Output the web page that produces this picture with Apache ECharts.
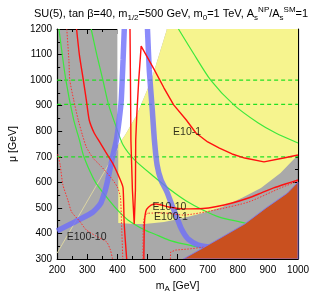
<!DOCTYPE html>
<html><head><meta charset="utf-8">
<script src="https://cdn.jsdelivr.net/npm/echarts@6/dist/echarts.min.js"></script>
<style>html,body{margin:0;padding:0;background:#fff}#c{width:314px;height:304px}</style>
</head><body><div id="c"></div>
<script>
// axis ticks
const xTicks = [200, 300, 400, 500, 600, 700, 800, 900, 1000];
const yTicks = [300, 400, 500, 600, 700, 800, 900, 1000, 1100, 1200];
// horizontal dashed green lines (mu values)
const dashedMu = [1000, 905, 700];
// region boundaries [mA, mu]
const whiteRegion = [[400,1200],[565,1200],[513,1000],[464.5,863],[426,785],[403,746],[400,746]];
const yellowRegion = [[565,1200],[1000,1200],[1000,707],[974,676],[942,637],[877,578],[813,539],[748,503],[684,480],[619,460],[555,445],[490,437],[458,437],[403,441],[403,746],[426,785],[464.5,863],[513,1000]];
const orangeRegion = [[619,300],[684,343],[748,386],[823,437],[894,500],[965,558],[1000,601],[1000,300]];
const paleLine = [[200,323],[403,735]];
// green solid contours
const green1 = [[206,1200],[229,1000],[255,844],[274,766],[287,707],[310,640],[329,597],[361,547],[400,492],[435,453],[490,414],[523,398],[571,374],[619,359],[668,347],[706,339]];
const green2 = [[313,1200],[332,1098],[352,1000],[371,903],[394,824],[419,746],[458,687],[523,621],[577,570],[629,527],[684,492],[739,464],[823,441],[877,421]];
const green3 = [[603,1200],[652,1106],[710,1000],[787,903],[868,832],[926,793],[1000,754]];
// blue bands
const blue1 = [[200,410],[265,449],[319,484],[345,519],[358,562],[368,609],[384,699],[397,766],[406,844],[413,922],[419,1079],[423,1200]];
const blue2 = [[500,1200],[506,1040],[516,883],[523,766],[532,668],[545,609],[565,562],[581,511],[597,464],[613,417],[635,378],[668,355],[703,347]];
// red contours
const redE10_1 = [[442,1200],[443.5,1000],[445,766],[450,570],[456,437],[460,570],[461,766],[464.5,863],[471,1000],[479,1133],[523,1040],[555,969],[587,903],[629,844],[661,793],[700,758],[739,734],[781,711],[823,695],[887,680],[952,695],[1000,707]];
const redLeft = [[264.5,1200],[274,1098],[287,1000],[297,922],[306.5,844],[323,793],[339,762],[361,719],[384,676],[410,609],[419,578],[422.6,441],[431,300]];
const redLeftDot = [[232,1200],[239,1079],[242,1000],[255,922],[270,844],[284,785],[297,738],[319,695],[345,664],[377,621],[400,582],[410,543],[413,472],[418,300]];
const redE10_10 = [[488,300],[490,441],[496,492],[512,511],[529,515],[571,503.5],[619,496],[684,497.6],[726,504.6],[781,519],[835.5,538.7],[877,558],[919,578],[958,593.5],[1000,609]];
const redE100_1 = [[485,300],[486,425],[490,464],[501,479],[555,480],[619,472],[726,492],[835.5,523],[942,578],[1000,605]];
const redE100_10a = [[202,710],[210,668],[219,590],[235.5,531],[248,484],[274,449],[297,413.5],[329,390],[364.5,366.5],[377,335],[384,300]];
const redE100_10b = [[576,300],[577,327],[593.5,335],[635.5,339],[693.5,347]];
// contour labels
const labelNames = ['E10-1', 'E10-10', 'E100-1', 'E100-10'];
const labelPos = [[585,797],[517,505],[522,462],[232,384]];

const FONT = 'Liberation Sans, Arial, Helvetica, sans-serif';
const chart = echarts.init(document.getElementById('c'), null, {renderer:'canvas'});

function poly(pts, fill, z, stroke) {
  return {
    type:'custom', coordinateSystem:'cartesian2d', xAxisIndex:0, yAxisIndex:0, z:z, silent:true, clip:true,
    data:[pts[0]],
    renderItem:function(params, api){
      return {type:'polygon', shape:{points: pts.map(function(p){return api.coord(p);})},
        style:{fill:fill, stroke: stroke || 'none', lineWidth: stroke ? 1 : 0}};
    }
  };
}
function line(pts, color, width, type, z, smooth) {
  return {type:'line', data:pts, showSymbol:false, symbol:'none', z:z, silent:true,
    smooth: smooth === undefined ? 0.25 : smooth,
    lineStyle:{color:color, width:width, type:type || 'solid'}};
}

const series = [];
series.push(poly(whiteRegion, '#ffffff', 1));
series.push(poly(yellowRegion, '#f6f48e', 2));
series.push(line(paleLine, '#e8e0a0', 0.8, 'solid', 3, false));
dashedMu.forEach(function(m){ series.push(line([[200,m],[1000,m]], '#22e022', 1.2, [4,3], 4, false)); });
series.push(line(green1, '#3ce83c', 1.2, 'solid', 4));
series.push(line(green2, '#3ce83c', 1.2, 'solid', 4));
series.push(line(green3, '#3ce83c', 1.2, 'solid', 4));
series.push(line(blue1, 'rgba(110,110,250,0.8)', 5.5, 'solid', 5, 0.2));
series.push(line(blue2, 'rgba(110,110,250,0.8)', 5.5, 'solid', 5, 0.2));
series.push(line(redE10_1, '#ff1010', 1.4, 'solid', 6, false));
series.push(line(redLeft, '#ff1010', 1.4, 'solid', 6, 0.2));
series.push(line(redLeftDot, '#ff3030', 1, [1.5,1.5], 6, 0.2));
series.push(line(redE10_10, '#ff1010', 1.4, 'solid', 6, 0.2));
series.push(line(redE100_1, '#ff3030', 1, [1.5,1.5], 6, 0.2));
series.push(line(redE100_10a, '#ff3030', 1, [1.5,1.5], 6, 0.2));
series.push(line(redE100_10b, '#ff3030', 1, [1.5,1.5], 6, false));
series.push(poly(orangeRegion, '#c9501f', 7, 'rgba(120,120,250,0.8)'));
series.push({type:'scatter', z:9, silent:true, symbolSize:0,
  data: labelPos.map(function(p,i){return {value:p, name:labelNames[i]};}),
  label:{show:true, position:'right', distance:0, formatter:function(p){return p.name;},
    color:'#000', fontSize:10.5, fontFamily:FONT}});

const axisCommon = {
  axisLine:{show:true, onZero:false, lineStyle:{color:'#000', width:1.2}},
  axisTick:{show:true, inside:true, length:5, lineStyle:{color:'#000', width:1}},
  minorTick:{show:true, splitNumber:2, length:3, lineStyle:{color:'#000', width:1}},
  splitLine:{show:false}
};
const plain = function(v){ return String(v); };

chart.setOption({
  animation:false,
  backgroundColor:'#ffffff',
  title:{
    text:'{t|SU(5), tan β=40, m}{s|1/2}{t|=500 GeV, m}{s|0}{t|=1 TeV, A}{s|s}{p|NP}{t|/A}{s|s}{p|SM}{t|=1}',
    left:34, top:6, padding:0,
    textStyle:{fontWeight:'normal', rich:{
      t:{fontSize:11, fontFamily:FONT, color:'#000', lineHeight:16, fontWeight:'normal'},
      s:{fontSize:8, fontFamily:FONT, color:'#000', lineHeight:8, verticalAlign:'bottom', fontWeight:'normal'},
      p:{fontSize:8, fontFamily:FONT, color:'#000', lineHeight:8, verticalAlign:'top', fontWeight:'normal'}
    }}
  },
  grid:{left:50, right:16, top:29, bottom:45, show:true, backgroundColor:'#a9a9a9', borderWidth:0},
  xAxis:[
    Object.assign({type:'value', min:xTicks[0], max:xTicks[xTicks.length-1], interval:xTicks[1]-xTicks[0],
      position:'bottom',
      name:'{m|m}{s|A}{m| [GeV]}', nameLocation:'middle', nameGap:20,
      nameTextStyle:{rich:{m:{fontSize:10.5, fontFamily:FONT, color:'#000', lineHeight:14},
        s:{fontSize:8, fontFamily:FONT, color:'#000', lineHeight:8, verticalAlign:'bottom'}}},
      axisLabel:{color:'#000', fontSize:10, fontFamily:FONT, margin:6, formatter:plain}}, axisCommon),
    Object.assign({type:'value', min:xTicks[0], max:xTicks[xTicks.length-1], interval:xTicks[1]-xTicks[0],
      position:'top', axisLabel:{show:false}}, axisCommon)
  ],
  yAxis:[
    Object.assign({type:'value', min:yTicks[0], max:yTicks[yTicks.length-1], interval:yTicks[1]-yTicks[0],
      position:'left',
      name:'μ [GeV]', nameLocation:'middle', nameGap:38, nameRotate:90,
      nameTextStyle:{fontSize:10.5, fontFamily:FONT, color:'#000'},
      axisLabel:{color:'#000', fontSize:10, fontFamily:FONT, margin:5, formatter:plain}}, axisCommon),
    Object.assign({type:'value', min:yTicks[0], max:yTicks[yTicks.length-1], interval:yTicks[1]-yTicks[0],
      position:'right', axisLabel:{show:false}}, axisCommon)
  ],
  series: series
});
</script>
</body></html>
